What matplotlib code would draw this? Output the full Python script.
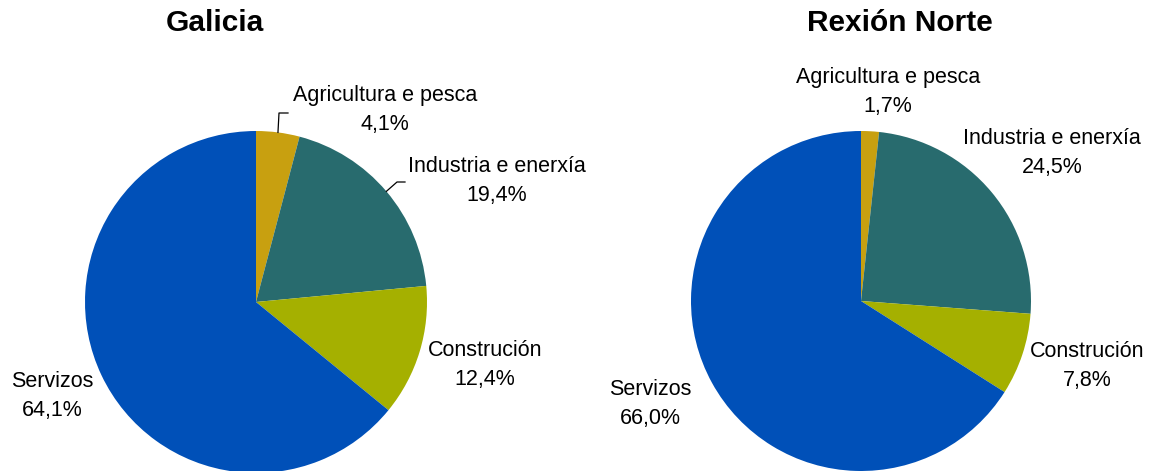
import matplotlib.pyplot as plt
import numpy as np

plt.rcParams['font.family'] = ['Liberation Sans', 'DejaVu Sans']

sectors = ['Agricultura e pesca', 'Industria e enerxía', 'Construción', 'Servizos']
galicia = [4.1, 19.4, 12.4, 64.1]
norte = [1.7, 24.5, 7.8, 66.0]
colors = ['#C8A010', '#286B6E', '#A5B000', '#0050B8']

W, H = 1155, 471
fig = plt.figure(figsize=(W / 100, H / 100), dpi=100)
ax = fig.add_axes([0, 0, 1, 1])


def fmt(v):
    return f"{v:.1f}%".replace('.', ',')


def draw_pie(values, cx, cy, r, title, tx, labels_pos, leaders):
    # cx, cy and positions given in pixels from top-left
    ax.pie(values, colors=colors, startangle=90, counterclock=False,
           center=(cx, H - cy), radius=r, wedgeprops=dict(linewidth=0),
           frame=True)
    ax.text(tx, H - 23, title, ha='center', va='center', fontsize=21.5,
            fontweight='bold')
    for name, v, (lx, ly) in zip(sectors, values, labels_pos):
        ax.text(lx, H - ly, f"{name}\n{fmt(v)}", ha='center', va='center',
                fontsize=15.5, linespacing=1.45)
    # leader lines from wedge mid-angle on the rim
    cum = np.cumsum([0] + values)
    for i, pts in leaders.items():
        mid = (cum[i] + cum[i + 1]) / 2 / 100 * 2 * np.pi
        sx = cx + r * np.sin(mid)
        sy = cy - r * np.cos(mid)
        xs = [sx] + [p[0] for p in pts]
        ys = [H - sy] + [H - p[1] for p in pts]
        ax.plot(xs, ys, color='black', lw=0.9)


draw_pie(galicia, 256, 302, 171, 'Galicia', 215,
         [(385, 110), (497, 181), (485, 365), (52, 396)],
         {0: [(279, 113), (288, 113)], 1: [(397, 182), (405, 182)]})
draw_pie(norte, 861, 301, 170, 'Rexión Norte', 900,
         [(888, 92), (1052, 153), (1087, 366), (650, 404)],
         {})

ax.set_xlim(0, W)
ax.set_ylim(0, H)
ax.set_aspect('equal')
ax.axis('off')

fig.savefig('out.png', dpi=100, facecolor='white')
